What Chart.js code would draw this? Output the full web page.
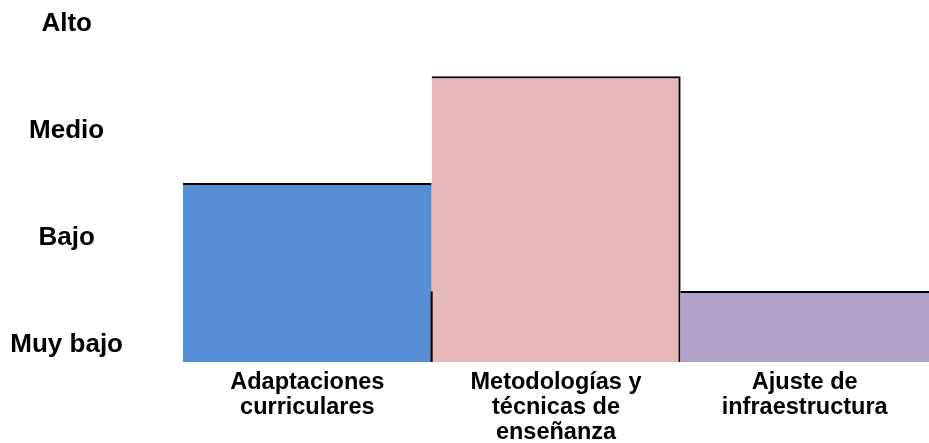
<!DOCTYPE html>
<html>
<head>
<meta charset="utf-8">
<script src="https://cdn.jsdelivr.net/npm/chart.js@4/dist/chart.umd.min.js"></script>
<style>
html,body{margin:0;padding:0;background:#fff;}
#wrap{width:929px;height:443px;position:relative;}
</style>
</head>
<body>
<div id="wrap"><canvas id="c" width="929" height="443"></canvas></div>
<script>
const categories = [
  ['Adaptaciones', 'curriculares'],
  ['Metodologías y', 'técnicas de', 'enseñanza'],
  ['Ajuste de', 'infraestructura']
];
const values = [2.49, 3.49, 1.48];
const levelLabels = ['Muy bajo', 'Bajo', 'Medio', 'Alto'];
const levelValues = [1, 2, 3, 4];
const barColors = ['#558ED5', '#E6B8B7', '#B2A2C7'];

const dividerPlugin = {
  id: 'divider',
  afterDatasetsDraw(chart) {
    const meta = chart.getDatasetMeta(0);
    const y = chart.scales.y;
    const ctx = chart.ctx;
    const b0 = meta.data[0];
    const x = b0.x + b0.width / 2;
    ctx.save();
    ctx.strokeStyle = '#000';
    ctx.lineWidth = 2;
    ctx.beginPath();
    ctx.moveTo(x, y.getPixelForValue(values[2]));
    ctx.lineTo(x, y.getPixelForValue(y.min));
    ctx.stroke();
    ctx.restore();
  }
};

new Chart(document.getElementById('c'), {
  type: 'bar',
  data: {
    labels: categories,
    datasets: [{
      data: values,
      backgroundColor: barColors,
      borderColor: '#000',
      borderWidth: [
        {top: 2, right: 0, left: 0, bottom: 0},
        {top: 2, right: 2, left: 0, bottom: 0},
        {top: 2, right: 0, left: 0, bottom: 0}
      ],
      borderSkipped: false,
      categoryPercentage: 1,
      barPercentage: 1
    }]
  },
  options: {
    responsive: false,
    animation: false,
    devicePixelRatio: 1,
    layout: {padding: {top: 22, right: 0, left: 0, bottom: 0}},
    plugins: {legend: {display: false}, tooltip: {enabled: false}},
    scales: {
      x: {
        grid: {display: false, drawTicks: false},
        border: {display: false},
        ticks: {
          color: '#000',
          padding: 8,
          maxRotation: 0,
          autoSkip: false,
          font: {family: 'Liberation Sans, Arial, sans-serif', size: 23.5, weight: 'bold', lineHeight: 1.064}
        },
        afterFit(s) { s.height = 81; s.paddingLeft = 0; s.paddingRight = 0; }
      },
      y: {
        min: 0.82,
        max: 4,
        grid: {display: false, drawTicks: false},
        border: {display: false},
        afterBuildTicks(s) { s.ticks = levelValues.map(v => ({value: v})); },
        ticks: {
          color: '#000',
          crossAlign: 'center',
          padding: 60,
          labelOffset: 2,
          font: {family: 'Liberation Sans, Arial, sans-serif', size: 26, weight: 'bold'},
          callback(v) { const i = levelValues.indexOf(v); return i >= 0 ? levelLabels[i] : ''; }
        },
        afterFit(s) { s.width = 183; s.paddingTop = 0; s.paddingBottom = 0; }
      }
    }
  },
  plugins: [dividerPlugin]
});
</script>
</body>
</html>
